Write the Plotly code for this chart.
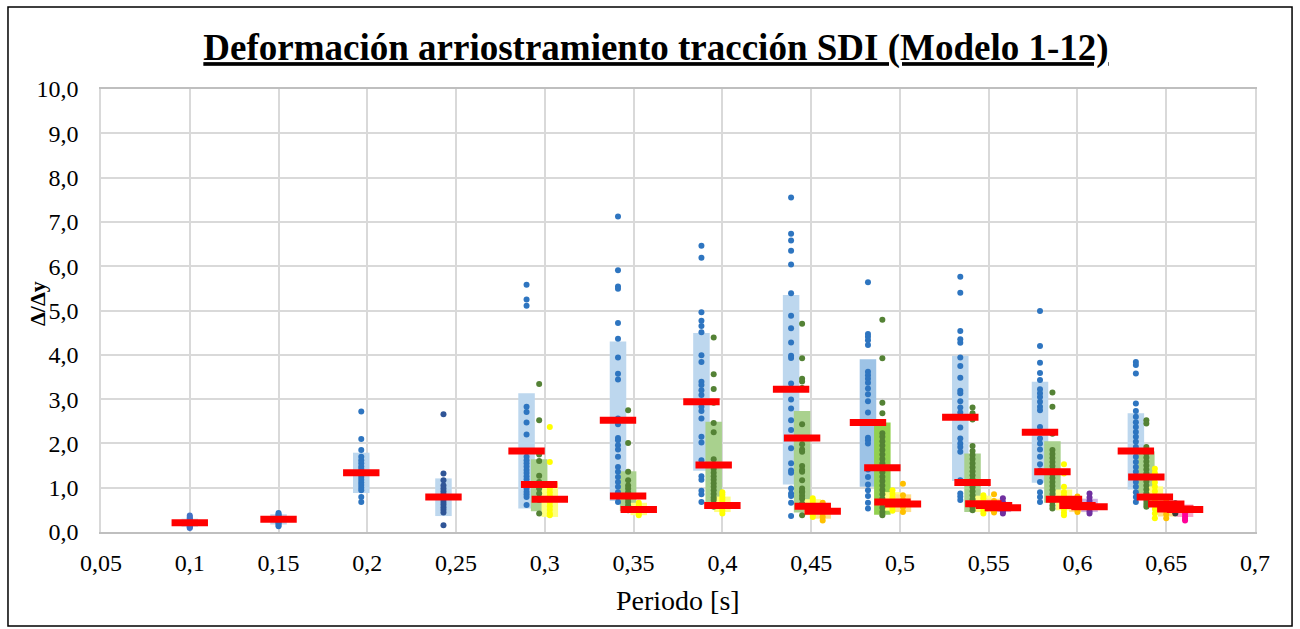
import plotly.graph_objects as go

# ---------------- data ----------------
# Piso 1 (azul)
x_p1 = [0.1, 0.15, 0.1966, 0.2429, 0.2897, 0.3412, 0.3882, 0.4387, 0.482, 0.534, 0.5789, 0.6329]
media_p1 = [0.21, 0.29, 1.34, 0.79, 1.83, 2.52, 2.94, 3.22, 2.47, 2.59, 2.25, 1.83]
min_p1 = [0.12, 0.17, 0.88, 0.36, 0.53, 0.70, 1.38, 1.07, 1.02, 1.15, 1.11, 0.96]
max_p1 = [0.30, 0.40, 1.79, 1.21, 3.13, 4.30, 4.49, 5.35, 3.90, 3.98, 3.39, 2.68]
puntos_p1 = [
    [0.09, 0.11, 0.13, 0.15, 0.17, 0.19, 0.21, 0.23, 0.25, 0.28, 0.31, 0.34, 0.37],
    [0.13, 0.16, 0.19, 0.22, 0.25, 0.28, 0.31, 0.34, 0.37, 0.40, 0.43],
    [2.72, 2.10, 1.85, 1.70, 1.62, 1.55, 1.48, 1.42, 1.36, 1.30, 1.24, 1.18, 1.12, 1.06, 1.00, 0.94, 0.79, 0.68],
    [2.66, 1.32, 1.17, 1.05, 0.98, 0.92, 0.86, 0.80, 0.74, 0.68, 0.62, 0.56, 0.50, 0.44, 0.15],
    [5.58, 5.25, 5.11, 2.83, 2.71, 2.47, 2.20, 1.70, 1.62, 1.55, 1.48, 1.40, 1.33, 1.26, 1.19, 1.12, 1.05, 0.98, 0.91, 0.85, 0.79, 0.61],
    [7.12, 5.91, 5.54, 5.49, 4.72, 4.36, 3.94, 3.57, 3.44, 2.56, 2.43, 2.12, 2.07, 1.96, 1.86, 1.70, 1.47, 1.36, 1.24, 1.13, 1.02, 0.90, 0.79, 0.68],
    [6.46, 6.19, 4.96, 4.77, 4.65, 4.51, 3.99, 3.84, 3.39, 3.32, 3.20, 3.09, 2.94, 2.83, 2.73, 2.56, 2.15, 2.02, 1.62, 1.51, 1.26, 1.18, 0.93, 0.85, 0.68],
    [7.55, 6.73, 6.58, 6.35, 6.04, 5.39, 4.88, 4.60, 4.28, 3.98, 3.93, 3.35, 2.99, 2.79, 2.52, 2.30, 1.89, 1.55, 1.39, 1.34, 0.98, 0.87, 0.81, 0.66, 0.36],
    [5.64, 4.47, 4.41, 4.33, 4.22, 3.62, 3.54, 3.46, 3.37, 3.24, 3.11, 2.95, 2.70, 2.13, 2.07, 2.00, 1.41, 1.24, 1.07, 0.94, 0.81, 0.66, 0.53],
    [5.76, 5.40, 4.54, 4.35, 4.27, 3.94, 3.75, 3.48, 3.19, 3.13, 2.95, 2.81, 2.70, 2.36, 2.11, 2.00, 1.92, 1.81, 1.17, 0.87, 0.80, 0.72],
    [4.99, 4.20, 3.82, 3.59, 3.43, 3.22, 3.13, 3.05, 2.94, 2.83, 2.75, 2.37, 2.11, 2.00, 1.86, 1.70, 1.53, 1.39, 1.13, 0.90, 0.79, 0.68],
    [3.84, 3.77, 3.58, 2.90, 2.73, 2.60, 2.48, 2.37, 2.26, 2.15, 2.04, 1.92, 1.81, 1.70, 1.58, 1.47, 1.36, 1.24, 1.13, 1.02, 0.90, 0.79, 0.68],
]

# Piso 2 (verde)
x_p2 = [0.2968, 0.3469, 0.3951, 0.4449, 0.4901, 0.5409, 0.5859, 0.6388]
media_p2 = [1.07, 0.81, 1.51, 2.12, 1.45, 1.12, 1.36, 1.24]
min_p2 = [0.47, 0.47, 0.53, 0.44, 0.39, 0.45, 0.66, 0.87]
max_p2 = [1.64, 1.37, 2.49, 2.73, 2.47, 1.77, 2.05, 1.82]
puntos_p2 = [
    [3.34, 2.52, 1.75, 1.60, 1.27, 1.13, 0.98, 0.87, 0.72, 0.42],
    [2.75, 2.01, 1.36, 1.17, 1.05, 0.98, 0.90, 0.82, 0.75, 0.68, 0.60, 0.49],
    [4.39, 3.56, 3.23, 2.92, 2.46, 2.25, 1.64, 1.51, 1.42, 1.34, 1.26, 1.18, 1.10, 1.02, 0.94, 0.86, 0.78, 0.72, 0.57],
    [4.70, 3.92, 3.46, 3.40, 3.25, 2.43, 1.98, 1.86, 1.81, 1.49, 1.40, 1.36, 1.17, 0.98, 0.92, 0.89, 0.82, 0.75, 0.64, 0.38],
    [4.79, 3.92, 2.92, 2.68, 2.23, 2.15, 2.05, 1.95, 1.85, 1.75, 1.65, 1.55, 1.45, 1.35, 1.25, 1.15, 1.05, 0.95, 0.85, 0.75, 0.65, 0.55, 0.45, 0.38],
    [2.81, 2.68, 2.54, 1.94, 1.83, 1.74, 1.65, 1.55, 1.46, 1.37, 1.28, 1.19, 1.10, 1.01, 0.92, 0.83, 0.74, 0.65, 0.56, 0.49],
    [3.15, 2.83, 2.22, 1.85, 1.76, 1.67, 1.58, 1.49, 1.40, 1.31, 1.22, 1.13, 1.04, 0.95, 0.86, 0.77, 0.68, 0.60, 0.53],
    [2.52, 2.45, 1.92, 1.77, 1.68, 1.59, 1.50, 1.41, 1.32, 1.23, 1.14, 1.05, 0.96, 0.87, 0.78, 0.70, 0.63, 0.57],
]

# Piso 3 (amarillo)
x_p3 = [0.3028, 0.3529, 0.4000, 0.4509, 0.4958, 0.5470, 0.5924, 0.6436]
media_p3 = [0.74, 0.51, 0.60, 0.58, 0.68, 0.64, 0.74, 0.79]
min_p3 = [0.34, 0.38, 0.45, 0.38, 0.48, 0.45, 0.49, 0.57]
max_p3 = [1.12, 0.66, 0.80, 0.74, 0.90, 0.82, 0.96, 1.03]
puntos_p3 = [
    [2.37, 1.58, 1.08, 0.98, 0.90, 0.82, 0.74, 0.66, 0.58, 0.50, 0.42, 0.38],
    [0.66, 0.60, 0.54, 0.48, 0.43, 0.38],
    [0.90, 0.84, 0.78, 0.72, 0.66, 0.60, 0.54, 0.48, 0.42],
    [0.76, 0.70, 0.64, 0.58, 0.52, 0.46, 0.40, 0.34],
    [0.94, 0.86, 0.78, 0.70, 0.62, 0.55, 0.48],
    [0.83, 0.76, 0.69, 0.62, 0.55, 0.48, 0.42],
    [1.53, 1.32, 1.02, 0.90, 0.82, 0.75, 0.68, 0.60, 0.52, 0.44, 0.38],
    [1.43, 1.33, 1.22, 1.12, 1.02, 0.92, 0.82, 0.72, 0.62, 0.52, 0.42, 0.31],
]

# Piso 4 (naranja)
x_p4 = [0.4565, 0.5017, 0.5530, 0.6000, 0.6500]
media_p4 = [0.47, 0.63, 0.60, 0.60, 0.63]
min_p4 = [0.30, 0.45, 0.45, 0.45, 0.35]
max_p4 = [0.64, 0.85, 0.75, 0.75, 0.70]
puntos_p4 = [
    [0.66, 0.58, 0.50, 0.42, 0.34, 0.26],
    [1.09, 0.83, 0.72, 0.64, 0.56, 0.45],
    [0.85, 0.70, 0.62, 0.55, 0.48, 0.44],
    [0.80, 0.72, 0.64, 0.56, 0.50, 0.45],
    [0.72, 0.64, 0.56, 0.48, 0.40, 0.31],
]

# Piso 5 (morado)
x_p5 = [0.5580, 0.6068]
media_p5 = [0.55, 0.57]
min_p5 = [0.45, 0.45]
max_p5 = [0.68, 0.75]
puntos_p5 = [
    [0.76, 0.68, 0.60, 0.52, 0.46, 0.42],
    [0.87, 0.78, 0.70, 0.62, 0.54, 0.47, 0.42],
]

# Piso 6 (gris oscuro)
x_p6 = [0.6551]
media_p6 = [0.52]
min_p6 = [0.45]
max_p6 = [0.62]
puntos_p6 = [[0.65, 0.58, 0.51, 0.45, 0.42]]

# Piso 7 (rosado)
x_p7 = [0.6606]
media_p7 = [0.51]
min_p7 = [0.34]
max_p7 = [0.62]
puntos_p7 = [[0.49, 0.42, 0.35, 0.30, 0.26]]

x_ticks = [0.05, 0.1, 0.15, 0.2, 0.25, 0.3, 0.35, 0.4, 0.45, 0.5, 0.55, 0.6, 0.65, 0.7]
y_ticks = [0, 1, 2, 3, 4, 5, 6, 7, 8, 9, 10]

# ---------------- styles ----------------
series = [
    (x_p1, media_p1, min_p1, max_p1, puntos_p1, "#2E75C0", "#BDD7EE"),
    (x_p2, media_p2, min_p2, max_p2, puntos_p2, "#548235", "#A9D18E"),
    (x_p3, media_p3, min_p3, max_p3, puntos_p3, "#FFFF00", "#FFFF80"),
    (x_p4, media_p4, min_p4, max_p4, puntos_p4, "#FFC000", "#FFE08A"),
    (x_p5, media_p5, min_p5, max_p5, puntos_p5, "#7030A0", "#CDB3E3"),
    (x_p6, media_p6, min_p6, max_p6, puntos_p6, "#3A3A3A", "#BFBFBF"),
    (x_p7, media_p7, min_p7, max_p7, puntos_p7, "#FF0099", "#F7A8CB"),
]
# per-column tweaks of the first two series
dot_colors_p1 = ["#4472C4", "#2E75C0", "#2E75C0", "#2F5597"] + ["#2E75C0"] * 8
box_colors_p1 = ["#BDD7EE"] * 8 + ["#9DC3E6"] + ["#BDD7EE"] * 3
box_colors_p2 = ["#A9D18E"] * 4 + ["#92D050"] + ["#A9D18E"] * 3

FONT = "Liberation Serif, Times New Roman, serif"
BOX_W = 0.0093

fig = go.Figure()

# range boxes (min-max band of each column)
for i, (xs, med, lo, hi, pts, dot_c, box_c) in enumerate(series):
    colors = box_c
    if i == 0:
        colors = box_colors_p1
    elif i == 1:
        colors = box_colors_p2
    fig.add_trace(go.Bar(
        x=xs, base=lo, y=[h - l for h, l in zip(hi, lo)],
        width=BOX_W, marker=dict(color=colors, line=dict(width=0)),
        hoverinfo="skip", showlegend=False,
    ))

# individual results
for i, (xs, med, lo, hi, pts, dot_c, box_c) in enumerate(series):
    px, py, pc = [], [], []
    for j, (xv, vals) in enumerate(zip(xs, pts)):
        c = dot_colors_p1[j] if i == 0 else dot_c
        for v in vals:
            px.append(xv)
            py.append(v)
            pc.append(c)
    fig.add_trace(go.Scatter(
        x=px, y=py, mode="markers",
        marker=dict(size=6, color=pc, line=dict(width=0)),
        showlegend=False,
    ))

# mean of each column
for xs, med, lo, hi, pts, dot_c, box_c in series:
    fig.add_trace(go.Scatter(
        x=xs, y=med, mode="markers",
        marker=dict(symbol="line-ew", size=26, line=dict(width=7, color="#FF0000")),
        showlegend=False,
    ))

fig.update_layout(
    width=1300, height=629,
    margin=dict(l=101, r=45, t=89, b=97),
    paper_bgcolor="white", plot_bgcolor="white",
    separators=",.",
    barmode="overlay",
    font=dict(family=FONT, color="#000000", size=24),
    title=dict(
        text="<b><u>Deformación arriostramiento tracción SDI (Modelo 1-12)</u></b>",
        font=dict(family=FONT, size=37, color="#000000"),
        x=0.5046, xref="container", xanchor="center",
        y=0.925, yref="container", yanchor="middle",
    ),
    xaxis=dict(
        range=[0.05, 0.7], tickvals=x_ticks,
        showgrid=True, gridcolor="#D9D9D9", gridwidth=1.5,
        showline=True, linecolor="#BFBFBF", linewidth=1.5, mirror=True,
        zeroline=False, ticks="", ticklabelstandoff=8,
        tickfont=dict(family=FONT, size=24, color="#000000"),
    ),
    yaxis=dict(
        range=[0, 10], tickvals=y_ticks, tickformat=".1f",
        showgrid=True, gridcolor="#D9D9D9", gridwidth=1.5,
        showline=True, linecolor="#D9D9D9", linewidth=1.5, mirror=True,
        zeroline=False, ticks="", ticklabelstandoff=16,
        tickfont=dict(family=FONT, size=24, color="#000000"),
    ),
    annotations=[
        dict(text="Periodo [s]", xref="paper", yref="paper", x=0.5, y=-0.1535,
             xanchor="center", yanchor="middle", showarrow=False,
             font=dict(family=FONT, size=28, color="#000000")),
        dict(text="<b>Δ/Δy</b>", xref="paper", yref="paper", x=-0.0545, y=0.515,
             xanchor="center", yanchor="middle", showarrow=False, textangle=-90,
             font=dict(family=FONT, size=22, color="#000000")),
    ],
    shapes=[
        dict(type="rect", xref="paper", yref="paper",
             x0=-0.0806, x1=1.0321, y0=-0.2122, y1=1.1851,
             line=dict(color="#000000", width=1.5), fillcolor="rgba(0,0,0,0)", layer="below"),
    ],
)

fig.write_html("out.html")
